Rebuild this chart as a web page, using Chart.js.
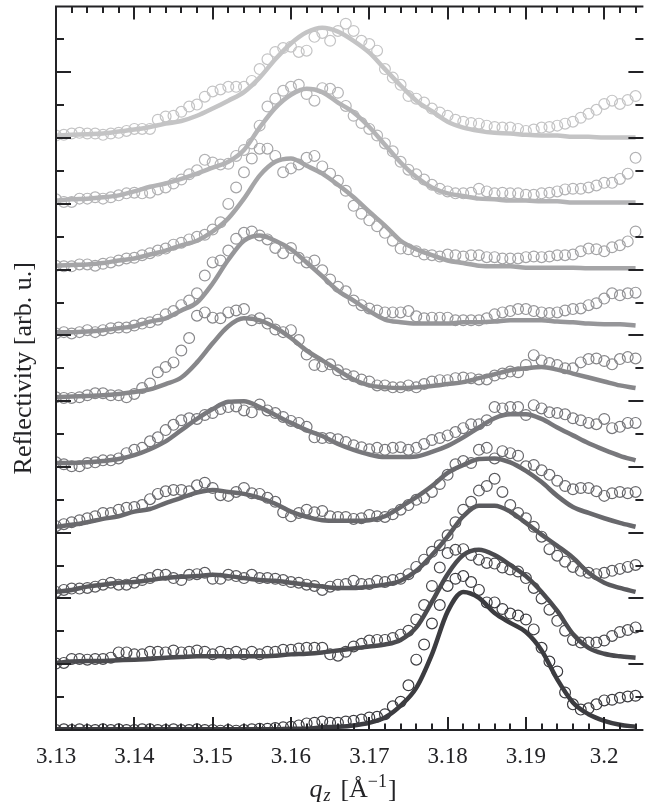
<!DOCTYPE html>
<html>
<head>
<meta charset="utf-8">
<title>Reflectivity</title>
<script src="https://cdn.jsdelivr.net/npm/chart.js@4.4.1/dist/chart.umd.min.js"></script>
<style>
  html, body { margin: 0; padding: 0; background: #fff; }
  canvas { display: block; }
</style>
</head>
<body>
<canvas id="reflChart" width="650" height="807"></canvas>
<script>
// q_z positions of the measured points and of the fit curves
const qMeas = [3.130,3.131,3.132,3.133,3.134,3.135,3.136,3.137,3.138,3.139,
  3.140,3.141,3.142,3.143,3.144,3.145,3.146,3.147,3.148,3.149,
  3.150,3.151,3.152,3.153,3.154,3.155,3.156,3.157,3.158,3.159,
  3.160,3.161,3.162,3.163,3.164,3.165,3.166,3.167,3.168,3.169,
  3.170,3.171,3.172,3.173,3.174,3.175,3.176,3.177,3.178,3.179,
  3.180,3.181,3.182,3.183,3.184,3.185,3.186,3.187,3.188,3.189,
  3.190,3.191,3.192,3.193,3.194,3.195,3.196,3.197,3.198,3.199,
  3.200,3.201,3.202,3.203,3.204];
const qFit = [3.130,3.132,3.134,3.136,3.138,3.140,3.142,3.144,3.146,3.148,
  3.150,3.152,3.154,3.156,3.158,3.160,3.162,3.164,3.166,3.168,
  3.170,3.172,3.174,3.176,3.178,3.180,3.182,3.184,3.186,3.188,
  3.190,3.192,3.194,3.196,3.198,3.200,3.202,3.204];

// measured reflectivity, curves offset by one unit each (0 = bottom, darkest)
const meas0 = [0.00,0.01,0.00,0.01,0.00,0.00,0.01,0.00,0.01,0.00,
  0.00,0.01,0.01,0.00,0.00,0.01,0.00,0.00,0.01,0.00,
  0.00,-0.01,0.00,-0.01,0.00,0.01,0.02,0.02,0.03,0.04,
  0.05,0.07,0.10,0.11,0.13,0.11,0.11,0.13,0.14,0.16,
  0.19,0.20,0.24,0.36,0.43,0.68,1.07,1.30,1.62,1.90,
  2.19,2.30,2.34,2.25,2.13,1.94,1.94,1.84,1.77,1.74,
  1.68,1.53,1.25,1.04,0.89,0.57,0.39,0.31,0.33,0.39,
  0.45,0.46,0.49,0.51,0.52];
const meas1 = [1.01,1.02,1.08,1.08,1.07,1.08,1.08,1.10,1.18,1.18,
  1.15,1.15,1.19,1.19,1.18,1.21,1.18,1.19,1.21,1.19,
  1.15,1.19,1.16,1.19,1.15,1.19,1.15,1.19,1.19,1.22,
  1.22,1.24,1.25,1.25,1.25,1.15,1.13,1.19,1.27,1.31,
  1.36,1.37,1.37,1.40,1.45,1.51,1.68,1.90,2.19,2.47,
  2.69,2.74,2.75,2.66,2.59,2.54,2.53,2.47,2.44,2.41,
  2.31,2.16,2.00,1.83,1.66,1.51,1.37,1.33,1.33,1.33,
  1.36,1.43,1.49,1.52,1.56];
const meas2 = [2.10,2.13,2.15,2.15,2.16,2.18,2.21,2.24,2.21,2.21,
  2.24,2.28,2.31,2.36,2.36,2.31,2.28,2.36,2.37,2.39,
  2.30,2.30,2.36,2.34,2.31,2.36,2.31,2.31,2.30,2.28,
  2.25,2.24,2.21,2.19,2.13,2.18,2.21,2.22,2.27,2.22,
  2.22,2.27,2.25,2.28,2.30,2.37,2.48,2.59,2.71,2.81,
  2.96,3.16,3.35,3.47,3.64,3.71,3.82,3.62,3.42,3.30,
  3.22,3.09,2.94,2.75,2.65,2.56,2.48,2.42,2.39,2.37,
  2.39,2.42,2.45,2.48,2.51];
const meas3 = [3.10,3.13,3.16,3.19,3.22,3.25,3.30,3.30,3.35,3.38,
  3.39,3.42,3.51,3.59,3.63,3.65,3.65,3.63,3.72,3.76,
  3.68,3.57,3.56,3.62,3.68,3.60,3.59,3.53,3.47,3.31,
  3.25,3.30,3.35,3.31,3.33,3.25,3.24,3.24,3.21,3.22,
  3.27,3.25,3.24,3.28,3.35,3.42,3.50,3.53,3.62,3.74,
  3.88,4.04,4.09,4.06,4.26,4.29,4.13,4.24,4.21,4.17,
  4.01,4.03,3.95,3.88,3.79,3.71,3.66,3.68,3.68,3.63,
  3.56,3.60,3.62,3.60,3.62];
const meas4 = [4.07,4.04,4.01,4.01,4.06,4.07,4.10,4.10,4.13,4.21,
  4.26,4.29,4.39,4.45,4.56,4.64,4.71,4.74,4.73,4.79,
  4.82,4.88,4.91,4.92,4.86,4.83,4.95,4.86,4.82,4.76,
  4.70,4.67,4.61,4.45,4.44,4.44,4.42,4.38,4.33,4.30,
  4.27,4.29,4.26,4.29,4.30,4.26,4.29,4.35,4.41,4.44,
  4.48,4.53,4.59,4.65,4.65,4.71,4.91,4.89,4.91,4.91,
  4.79,4.94,4.89,4.83,4.82,4.80,4.74,4.71,4.67,4.65,
  4.73,4.59,4.61,4.67,4.67];
const meas5 = [5.06,5.05,5.05,5.06,5.09,5.12,5.12,5.09,5.09,5.06,
  5.11,5.20,5.27,5.44,5.52,5.59,5.77,5.96,6.30,6.35,
  6.27,6.26,6.35,6.38,6.40,6.23,6.26,6.18,6.09,6.05,
  6.08,5.93,5.71,5.55,5.53,5.56,5.47,5.41,5.38,5.33,
  5.30,5.24,5.24,5.21,5.21,5.24,5.21,5.26,5.30,5.32,
  5.32,5.35,5.36,5.35,5.33,5.33,5.39,5.42,5.45,5.44,
  5.55,5.70,5.62,5.58,5.55,5.50,5.50,5.59,5.64,5.65,
  5.61,5.56,5.64,5.67,5.65];
const meas6 = [6.03,6.05,6.03,6.05,6.08,6.05,6.08,6.11,6.12,6.12,
  6.15,6.18,6.20,6.24,6.32,6.37,6.46,6.53,6.64,6.91,
  7.11,7.14,7.29,7.47,7.56,7.58,7.52,7.46,7.33,7.25,
  7.33,7.18,7.11,7.14,6.99,6.85,6.74,6.67,6.53,6.46,
  6.41,6.38,6.35,6.35,6.35,6.37,6.29,6.26,6.27,6.27,
  6.27,6.23,6.23,6.23,6.23,6.26,6.32,6.35,6.37,6.40,
  6.40,6.37,6.35,6.34,6.35,6.38,6.40,6.41,6.46,6.49,
  6.56,6.64,6.61,6.64,6.65];
const meas7 = [7.06,7.05,7.05,7.08,7.08,7.06,7.09,7.11,7.14,7.17,
  7.18,7.22,7.25,7.29,7.32,7.38,7.41,7.46,7.50,7.53,
  7.61,7.72,8.00,8.25,8.48,8.69,8.84,8.84,8.73,8.48,
  8.54,8.60,8.70,8.73,8.57,8.46,8.35,8.20,7.97,7.85,
  7.75,7.66,7.56,7.44,7.32,7.31,7.28,7.23,7.22,7.20,
  7.23,7.22,7.20,7.22,7.22,7.19,7.19,7.17,7.17,7.17,
  7.19,7.20,7.19,7.20,7.22,7.22,7.23,7.28,7.32,7.31,
  7.28,7.34,7.37,7.43,7.58];
const meas8 = [8.07,8.03,8.03,8.08,8.08,8.10,8.08,8.10,8.13,8.16,
  8.17,8.16,8.17,8.22,8.25,8.31,8.37,8.45,8.51,8.67,
  8.63,8.60,8.61,8.73,8.82,8.92,9.19,9.48,9.60,9.72,
  9.78,9.81,9.67,9.57,9.76,9.75,9.69,9.49,9.34,9.23,
  9.14,9.04,8.92,8.80,8.64,8.52,8.45,8.37,8.29,8.23,
  8.19,8.16,8.16,8.17,8.23,8.19,8.16,8.17,8.16,8.16,
  8.14,8.14,8.16,8.17,8.19,8.22,8.23,8.23,8.25,8.28,
  8.32,8.32,8.38,8.46,8.70];
const meas9 = [9.04,9.05,9.07,9.08,9.07,9.07,9.05,9.07,9.08,9.11,
  9.14,9.14,9.14,9.28,9.33,9.34,9.40,9.48,9.51,9.63,
  9.71,9.74,9.78,9.78,9.78,9.87,10.05,10.20,10.31,10.37,
  10.39,10.31,10.33,10.54,10.60,10.48,10.63,10.74,10.63,10.48,
  10.43,10.33,10.05,9.92,9.81,9.64,9.60,9.54,9.45,9.39,
  9.34,9.28,9.25,9.23,9.22,9.19,9.17,9.16,9.16,9.14,
  9.11,9.13,9.16,9.17,9.19,9.22,9.25,9.31,9.37,9.43,
  9.52,9.57,9.52,9.58,9.64];

// fitted curves, same offsets
const fit0 = [0.01,0.01,0.01,0.01,0.01,0.01,0.01,0.01,0.01,0.01,
  0.01,0.01,0.01,0.01,0.01,0.02,0.02,0.04,0.05,0.07,
  0.11,0.19,0.37,0.64,1.15,1.80,2.10,2.01,1.78,1.63,
  1.49,1.21,0.77,0.42,0.24,0.14,0.08,0.05];
const fit1 = [1.02,1.04,1.05,1.05,1.06,1.07,1.08,1.10,1.11,1.12,
  1.12,1.12,1.12,1.12,1.13,1.15,1.16,1.18,1.21,1.24,
  1.27,1.30,1.37,1.56,1.95,2.37,2.66,2.74,2.66,2.51,
  2.34,2.10,1.81,1.46,1.25,1.16,1.12,1.10];
const fit2 = [2.10,2.13,2.18,2.21,2.24,2.25,2.28,2.31,2.33,2.34,
  2.36,2.34,2.31,2.28,2.27,2.24,2.21,2.18,2.16,2.16,
  2.18,2.21,2.27,2.42,2.66,2.94,3.25,3.41,3.41,3.32,
  3.15,2.97,2.80,2.62,2.39,2.24,2.16,2.10];
const fit3 = [3.09,3.12,3.16,3.21,3.25,3.32,3.36,3.45,3.53,3.61,
  3.65,3.62,3.59,3.53,3.44,3.32,3.24,3.19,3.18,3.18,
  3.19,3.25,3.39,3.54,3.71,3.91,4.03,4.12,4.13,4.07,
  3.94,3.77,3.56,3.39,3.30,3.22,3.15,3.09];
const fit4 = [4.06,4.06,4.07,4.09,4.12,4.18,4.27,4.39,4.56,4.73,
  4.88,4.99,5.00,4.91,4.79,4.67,4.56,4.47,4.35,4.26,
  4.19,4.15,4.15,4.16,4.23,4.32,4.45,4.60,4.74,4.80,
  4.80,4.73,4.60,4.48,4.36,4.26,4.17,4.10];
const fit5 = [5.06,5.07,5.08,5.09,5.11,5.14,5.18,5.26,5.36,5.59,
  5.88,6.14,6.26,6.23,6.12,5.96,5.77,5.62,5.47,5.33,
  5.24,5.21,5.20,5.21,5.23,5.26,5.29,5.35,5.41,5.47,
  5.50,5.52,5.48,5.42,5.36,5.30,5.24,5.20];
const fit6 = [6.05,6.05,6.06,6.08,6.11,6.14,6.21,6.26,6.38,6.50,
  6.79,7.15,7.44,7.52,7.44,7.31,7.11,6.90,6.68,6.53,
  6.37,6.24,6.20,6.18,6.18,6.18,6.20,6.20,6.21,6.23,
  6.23,6.23,6.21,6.20,6.18,6.17,6.17,6.15];
const fit7 = [7.06,7.07,7.08,7.10,7.14,7.17,7.23,7.29,7.37,7.44,
  7.58,7.78,8.08,8.43,8.64,8.69,8.58,8.46,8.29,8.10,
  7.88,7.67,7.44,7.31,7.22,7.14,7.10,7.06,7.05,7.05,
  7.03,7.03,7.03,7.03,7.02,7.02,7.02,7.02];
const fit8 = [8.05,8.07,8.08,8.10,8.13,8.19,8.26,8.31,8.38,8.46,
  8.55,8.64,8.82,9.16,9.46,9.66,9.75,9.70,9.54,9.39,
  9.17,8.90,8.63,8.41,8.25,8.16,8.12,8.08,8.07,8.05,
  8.05,8.04,8.04,8.02,8.02,8.02,8.02,8.02];
const fit9 = [9.04,9.05,9.06,9.07,9.10,9.13,9.17,9.22,9.26,9.34,
  9.45,9.57,9.70,9.92,10.20,10.44,10.61,10.68,10.62,10.48,
  10.30,10.05,9.80,9.57,9.41,9.25,9.16,9.11,9.08,9.07,
  9.05,9.04,9.04,9.02,9.02,9.01,9.01,9.01];

// axis ticks
const xLabelTicks = [3.13, 3.14, 3.15, 3.16, 3.17, 3.18, 3.19, 3.20];
const xLabels = ['3.13', '3.14', '3.15', '3.16', '3.17', '3.18', '3.19', '3.2'];
const xMinorTicks = [3.132,3.134,3.136,3.138, 3.142,3.144,3.146,3.148,
  3.152,3.154,3.156,3.158, 3.162,3.164,3.166,3.168, 3.172,3.174,3.176,3.178,
  3.182,3.184,3.186,3.188, 3.192,3.194,3.196,3.198, 3.202,3.204];
const yMajorTicks = [1, 2, 3, 4, 5, 6, 7, 8, 9, 10];
const yMinorTicks = [0.5, 1.5, 2.5, 3.5, 4.5, 5.5, 6.5, 7.5, 8.5, 9.5, 10.5];

const shades = ['#3c3c40', '#4b4b4f', '#5a5a5e', '#69696d', '#78787c',
  '#87878a', '#969699', '#a5a5a7', '#b4b4b6', '#c4c4c5'];

const measSets = [meas0, meas1, meas2, meas3, meas4, meas5, meas6, meas7, meas8, meas9];
const fitSets = [fit0, fit1, fit2, fit3, fit4, fit5, fit6, fit7, fit8, fit9];

function pairs(xs, ys) {
  return ys.map((v, i) => ({ x: xs[i], y: v }));
}

const datasets = [];
fitSets.forEach((f, i) => {
  datasets.push({
    label: 'fit ' + i,
    data: pairs(qFit, f),
    showLine: true,
    borderColor: shades[i],
    borderWidth: 4.5,
    pointRadius: 0,
    cubicInterpolationMode: 'monotone',
    order: 0
  });
});
measSets.forEach((m, i) => {
  datasets.push({
    label: 'data ' + i,
    data: pairs(qMeas, m),
    showLine: false,
    borderColor: shades[i],
    pointBorderColor: shades[i],
    pointBackgroundColor: 'rgba(255,255,255,0)',
    pointRadius: 5.4,
    pointBorderWidth: 1.2,
    order: 1
  });
});

const ink = '#232326';

// frame on three sides plus inward tick marks on all four
const frameTicks = {
  id: 'frameTicks',
  afterDatasetsDraw(chart) {
    const { ctx, chartArea: a, scales: { x, y } } = chart;
    ctx.save();
    ctx.strokeStyle = ink;
    ctx.lineWidth = 2;
    ctx.beginPath();
    ctx.moveTo(a.right, a.top); ctx.lineTo(a.left, a.top); ctx.lineTo(a.left, a.bottom); ctx.lineTo(a.right, a.bottom);
    xLabelTicks.forEach(v => {
      const px = Math.round(x.getPixelForValue(v));
      ctx.moveTo(px, a.bottom); ctx.lineTo(px, a.bottom - 13);
      ctx.moveTo(px, a.top); ctx.lineTo(px, a.top + 13);
    });
    xMinorTicks.forEach(v => {
      const px = Math.round(x.getPixelForValue(v));
      ctx.moveTo(px, a.bottom); ctx.lineTo(px, a.bottom - 6.5);
      ctx.moveTo(px, a.top); ctx.lineTo(px, a.top + 6.5);
    });
    yMajorTicks.forEach(v => {
      const py = Math.round(y.getPixelForValue(v));
      ctx.moveTo(a.left, py); ctx.lineTo(a.left + 15, py);
      ctx.moveTo(a.right, py); ctx.lineTo(a.right - 15, py);
    });
    yMinorTicks.forEach(v => {
      const py = Math.round(y.getPixelForValue(v));
      ctx.moveTo(a.left, py); ctx.lineTo(a.left + 8, py);
      ctx.moveTo(a.right, py); ctx.lineTo(a.right - 8, py);
    });
    ctx.stroke();
    ctx.restore();
  }
};

// x axis title with sub- and superscript: q_z [Å^-1]
const xTitle = {
  id: 'xTitle',
  afterDraw(chart) {
    const ctx = chart.ctx;
    const a = chart.chartArea;
    const parts = [
      { t: 'q', f: 'italic 26px "Liberation Serif"', dy: 0, gap: 1 },
      { t: 'z', f: 'italic 18px "Liberation Serif"', dy: 4, gap: 10 },
      { t: '[Å', f: '26px "Liberation Serif"', dy: 0, gap: 0 },
      { t: '\u22121', f: '18px "Liberation Serif"', dy: -10, gap: 1 },
      { t: ']', f: '26px "Liberation Serif"', dy: 0, gap: 0 }
    ];
    ctx.save();
    ctx.fillStyle = ink;
    ctx.textBaseline = 'alphabetic';
    let total = 0;
    parts.forEach(p => { ctx.font = p.f; p.w = ctx.measureText(p.t).width; total += p.w + p.gap; });
    let px = (a.left + chart.width) / 2 - total / 2;
    const base = 797;
    parts.forEach(p => {
      ctx.font = p.f;
      ctx.fillText(p.t, px, base + p.dy);
      px += p.w + p.gap;
    });
    ctx.restore();
  }
};

new Chart(document.getElementById('reflChart'), {
  type: 'scatter',
  data: { datasets },
  options: {
    responsive: false,
    animation: false,
    devicePixelRatio: 1,
    layout: { padding: { top: 5, right: -3, left: 0, bottom: 0 } },
    plugins: { legend: { display: false }, tooltip: { enabled: false } },
    scales: {
      x: {
        type: 'linear',
        min: 3.13,
        max: 3.205,
        grid: { display: false, drawTicks: false },
        border: { display: false },
        afterBuildTicks: s => { s.ticks = xLabelTicks.map(v => ({ value: v })); },
        afterFit: s => { s.height = 77; },
        ticks: {
          autoSkip: false,
          maxRotation: 0,
          padding: 13,
          color: ink,
          font: { family: '"Liberation Serif"', size: 23 },
          callback: (v, i) => xLabels[i]
        }
      },
      y: {
        min: 0,
        max: 11,
        grid: { display: false, drawTicks: false },
        border: { display: false },
        afterFit: s => { s.width = 56; },
        ticks: { display: false },
        title: {
          display: true,
          text: 'Reflectivity [arb. u.]',
          color: ink,
          font: { family: '"Liberation Serif"', size: 26 },
          padding: { top: 9, bottom: 0 }
        }
      }
    }
  },
  plugins: [frameTicks, xTitle]
});
</script>
</body>
</html>
